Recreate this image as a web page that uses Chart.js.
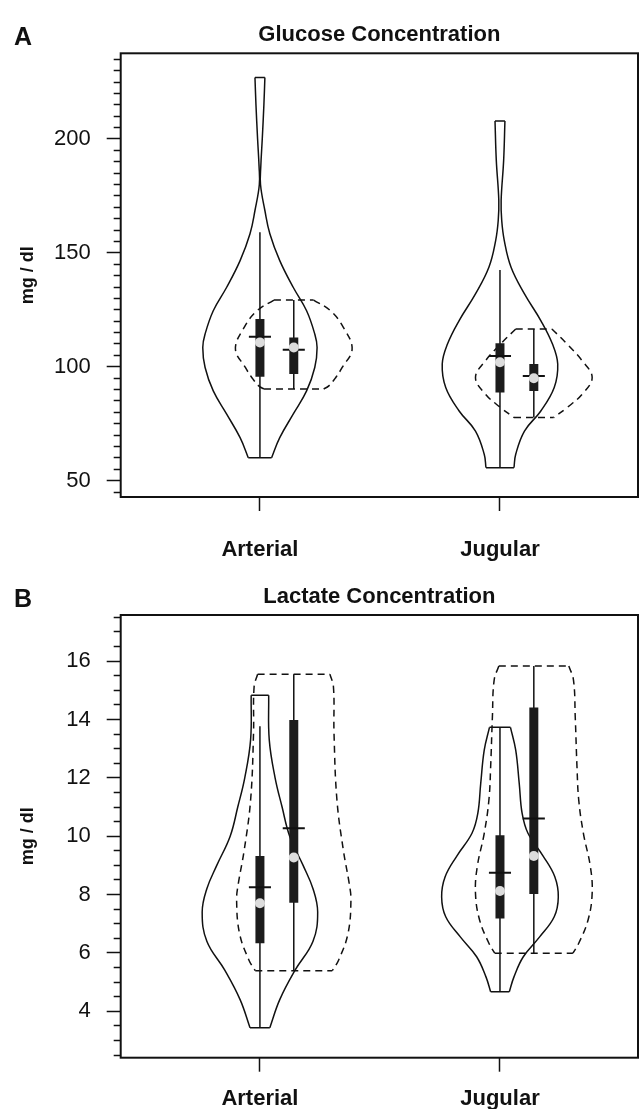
<!DOCTYPE html>
<html>
<head>
<meta charset="utf-8">
<script src="https://cdn.jsdelivr.net/npm/chart.js@4.4.0/dist/chart.umd.min.js"></script>
<style>
  html, body { margin: 0; padding: 0; background: #fff; }
  canvas { display: block; }
</style>
</head>
<body>
<canvas id="glucose" width="639" height="575"></canvas>
<canvas id="lactate" width="639" height="534"></canvas>
<script>
const categories = ["Arterial", "Jugular"];

// violin outlines: levels (top -> bottom) and relative density (1 = widest)
// glucose, mg/dl
const glucoseSolidArterialY = [227, 215, 200, 188, 180, 168.6, 158.4, 146.6, 134.9, 124.6, 114.4, 108.5, 99.7, 89.4, 79.2, 68.9, 60.1];
const glucoseSolidArterialD = [0.085, 0.068, 0.04, 0.015, 0.01, 0.085, 0.17, 0.34, 0.57, 0.8, 0.94, 0.98, 0.94, 0.8, 0.57, 0.34, 0.2];
const glucoseDashedArterialY = [129.3, 124.6, 117.3, 107.8, 99.7, 95.3, 91.6, 90.2];
const glucoseDashedArterialD = [0.34, 0.63, 0.85, 1.0, 0.83, 0.72, 0.6, 0.51];
const glucoseSolidJugularY = [207.9, 190.6, 173, 164.2, 155.4, 143.7, 132, 120.3, 110, 101.2, 90.9, 80.6, 71.8, 61.6, 55.7];
const glucoseSolidJugularD = [0.085, 0.063, 0.02, 0.03, 0.074, 0.19, 0.42, 0.7, 0.9, 0.99, 0.93, 0.7, 0.42, 0.27, 0.24];
const glucoseDashedJugularY = [116.6, 110, 102.6, 95.3, 88, 82.1, 77.7];
const glucoseDashedJugularD = [0.31, 0.57, 0.83, 1.0, 0.83, 0.57, 0.34];

// box stats per category: [low whisker, q1, median, q3, high whisker]
const glucoseSolidStats = [[60.1, 95.6, 110.7, 121, 159], [55.7, 88.7, 102, 110.3, 142.5]];
const glucoseSolidMeans = [113.2, 104.7];
const glucoseDashedStats = [[90.2, 96.8, 108.5, 112.9, 129.3], [77.7, 89.4, 95, 101.2, 116.6]];
const glucoseDashedMeans = [107.5, 96];
const glucoseTicks = [50, 100, 150, 200];

// lactate, mg/dl
const lactateSolidArterialY = [14.83, 13.3, 12, 11, 10, 9, 8.2, 7.4, 6.4, 5.4, 4.4, 3.44];
const lactateSolidArterialD = [0.15, 0.16, 0.26, 0.38, 0.51, 0.74, 0.91, 0.99, 0.91, 0.6, 0.34, 0.17];
const lactateDashedArterialY = [15.55, 15.12, 13.52, 11.24, 9.52, 8.38, 7.81, 6.67, 5.76, 5.39];
const lactateDashedArterialD = [0.62, 0.68, 0.69, 0.74, 0.85, 0.95, 0.98, 0.93, 0.77, 0.66];
const lactateSolidJugularY = [13.73, 12.95, 11.81, 10.78, 10.1, 9.32, 8.61, 7.92, 7.24, 6.55, 5.87, 5.18, 4.67];
const lactateSolidJugularD = [0.18, 0.27, 0.33, 0.38, 0.48, 0.74, 0.94, 1.0, 0.93, 0.68, 0.4, 0.24, 0.16];
const lactateDashedJugularY = [15.83, 15.35, 14.09, 12.38, 11.24, 10.1, 8.95, 8.04, 7.13, 6.33, 5.99];
const lactateDashedJugularD = [0.6, 0.68, 0.71, 0.74, 0.77, 0.85, 0.97, 1.0, 0.93, 0.77, 0.67];

const lactateSolidStats = [[3.44, 6.33, 7.7, 9.32, 13.77], [4.67, 7.18, 8.12, 10.03, 13.73]];
const lactateSolidMeans = [8.25, 8.75];
const lactateDashedStats = [[5.39, 7.72, 9.27, 13.98, 15.55], [5.99, 8.02, 9.32, 14.41, 15.83]];
const lactateDashedMeans = [10.27, 10.61];
const lactateTicks = [4, 6, 8, 10, 12, 14, 16];

const FONT = "'Liberation Sans', Arial, Helvetica, sans-serif";
const INK = "#111";
const VIOLIN_HALF = 0.243;  // x units at density 1
const DASH_SHIFT = 0.141;   // dashed group sits right of the tick
const MEAN_HALF = 0.046;

function violinSets(cx, ys, ds, dashed) {
  const style = {
    type: "line", borderColor: INK, borderWidth: 1.5, pointRadius: 0,
    borderDash: dashed ? [7, 5] : [], fill: false, order: 4
  };
  const left = ys.map((y, i) => ({ x: cx - ds[i] * VIOLIN_HALF, y }));
  const right = ys.map((y, i) => ({ x: cx + ds[i] * VIOLIN_HALF, y }));
  const n = ys.length - 1;
  return [
    { ...style, data: left, tension: 0.4 },
    { ...style, data: right, tension: 0.4 },
    { ...style, data: [left[0], right[0]], tension: 0 },
    { ...style, data: [left[n], right[n]], tension: 0 }
  ];
}

function boxSets(cx, s, mean) {
  const [lo, q1, med, q3, hi] = s;
  return [
    { type: "line", data: [{ x: cx, y: lo }, { x: cx, y: hi }], borderColor: INK, borderWidth: 1.5, pointRadius: 0, order: 3 },
    { type: "line", data: [{ x: cx, y: q1 }, { x: cx, y: q3 }], borderColor: "#1c1c1c", borderWidth: 9, pointRadius: 0, order: 2 },
    { type: "line", data: [{ x: cx - MEAN_HALF, y: mean }, { x: cx + MEAN_HALF, y: mean }], borderColor: INK, borderWidth: 2, pointRadius: 0, order: 1 },
    { type: "line", data: [{ x: cx, y: med }], showLine: false, pointRadius: 5, pointBackgroundColor: "#dcdcdc", pointBorderColor: "#dcdcdc", pointBorderWidth: 0, order: 0 }
  ];
}

const framePlugin = {
  id: "frame",
  afterDraw(chart, args, opts) {
    const { ctx, chartArea: a } = chart;
    ctx.save();
    ctx.strokeStyle = INK;
    ctx.lineWidth = 2;
    ctx.strokeRect(a.left, a.top, a.right - a.left, a.bottom - a.top);
    ctx.fillStyle = INK;
    ctx.textBaseline = "alphabetic";
    ctx.font = "bold 22px " + FONT;
    ctx.textAlign = "center";
    ctx.fillText(opts.title, (a.left + a.right) / 2, a.top - 12);
    ctx.font = "bold 25px " + FONT;
    ctx.textAlign = "left";
    ctx.fillText(opts.letter, 14, a.top - 8);
    ctx.restore();
  }
};

function makePanel(id, p) {
  const isMajor = v => p.ticks.some(t => Math.abs(t - v) < 1e-6);
  const datasets = [];
  p.violins.forEach(v => datasets.push(...violinSets(v.cx, v.ys, v.ds, v.dashed)));
  [0, 1].forEach(i => {
    datasets.push(...boxSets(i + 1, p.solidStats[i], p.solidMeans[i]));
    datasets.push(...boxSets(i + 1 + DASH_SHIFT, p.dashedStats[i], p.dashedMeans[i]));
  });

  return new Chart(document.getElementById(id), {
    type: "line",
    data: { datasets },
    plugins: [framePlugin],
    options: {
      responsive: false,
      animation: false,
      layout: { autoPadding: false, padding: { top: p.plotTop, right: 1, left: 0, bottom: 0 } },
      plugins: {
        legend: { display: false },
        tooltip: { enabled: false },
        frame: { title: p.title, letter: p.letter }
      },
      scales: {
        x: {
          type: "linear", min: 0.42, max: 2.575,
          afterBuildTicks: s => { s.ticks = categories.map((c, i) => ({ value: i + 1 })); },
          afterFit: s => { s.height = p.xHeight; },
          ticks: {
            callback: v => categories[Math.round(v) - 1],
            font: { size: 22, weight: "bold", family: FONT }, color: INK,
            padding: p.xPad, maxRotation: 0, autoSkip: false
          },
          grid: { drawOnChartArea: false, tickLength: 14, tickWidth: 1.5, tickColor: INK },
          border: { display: false }
        },
        y: {
          type: "linear", min: p.min, max: p.max,
          afterFit: s => { s.width = 120.7; },
          ticks: {
            stepSize: p.minorStep, autoSkip: false, includeBounds: false,
            callback: v => isMajor(v) ? String(v) : "",
            font: { size: 22, family: FONT }, color: INK, padding: 16
          },
          grid: {
            drawOnChartArea: false, tickLength: 14, tickWidth: 1.5, tickColor: INK,
            tickBorderDash: c => isMajor(c.tick.value) ? [] : [7, 7],
            tickBorderDashOffset: c => isMajor(c.tick.value) ? 0 : 7
          },
          border: { display: false },
          title: {
            display: true, text: "mg / dl", color: INK,
            font: { size: 18, weight: "bold", family: FONT },
            padding: { top: 17, bottom: 0 }
          }
        }
      }
    }
  });
}

makePanel("glucose", {
  title: "Glucose Concentration", letter: "A",
  min: 42.84, max: 237.6, minorStep: 5, ticks: glucoseTicks,
  plotTop: 53.3, xHeight: 78, xPad: 26,
  solidStats: glucoseSolidStats, solidMeans: glucoseSolidMeans,
  dashedStats: glucoseDashedStats, dashedMeans: glucoseDashedMeans,
  violins: [
    { cx: 1, ys: glucoseSolidArterialY, ds: glucoseSolidArterialD, dashed: false },
    { cx: 1 + DASH_SHIFT, ys: glucoseDashedArterialY, ds: glucoseDashedArterialD, dashed: true },
    { cx: 2, ys: glucoseSolidJugularY, ds: glucoseSolidJugularD, dashed: false },
    { cx: 2 + DASH_SHIFT, ys: glucoseDashedJugularY, ds: glucoseDashedJugularD, dashed: true }
  ]
});

makePanel("lactate", {
  title: "Lactate Concentration", letter: "B",
  min: 2.41, max: 17.58, minorStep: 0.5, ticks: lactateTicks,
  plotTop: 40, xHeight: 51.3, xPad: 14,
  solidStats: lactateSolidStats, solidMeans: lactateSolidMeans,
  dashedStats: lactateDashedStats, dashedMeans: lactateDashedMeans,
  violins: [
    { cx: 1, ys: lactateSolidArterialY, ds: lactateSolidArterialD, dashed: false },
    { cx: 1 + DASH_SHIFT, ys: lactateDashedArterialY, ds: lactateDashedArterialD, dashed: true },
    { cx: 2, ys: lactateSolidJugularY, ds: lactateSolidJugularD, dashed: false },
    { cx: 2 + DASH_SHIFT, ys: lactateDashedJugularY, ds: lactateDashedJugularD, dashed: true }
  ]
});
</script>
</body>
</html>
